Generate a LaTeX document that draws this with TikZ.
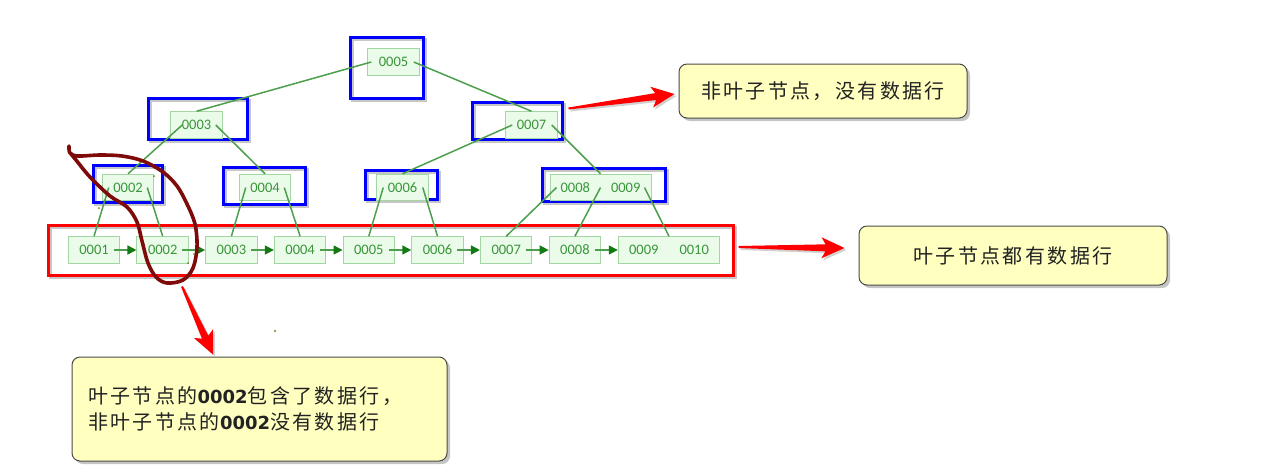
\documentclass[tikz,border=0pt]{standalone}
\usepackage{fontspec}
\setmainfont{Carlito}
\newfontfamily\cjk{Noto Sans CJK SC}[LetterSpace=12]
\newfontfamily\dvs{DejaVu Sans}
\usetikzlibrary{arrows.meta,calc,shadows}
\definecolor{gfill}{HTML}{EAFBEA}
\definecolor{gdraw}{HTML}{A3D6A3}
\definecolor{gtext}{HTML}{3A963A}
\definecolor{gline}{HTML}{4C9F4C}
\definecolor{garrow}{HTML}{137A13}
\definecolor{cfill}{HTML}{FFFFC0}
\definecolor{cdraw}{HTML}{4A4A4A}
\definecolor{ctext}{HTML}{222222}
\definecolor{loopc}{HTML}{7E0A0A}
\definecolor{dotc}{HTML}{807A10}
\newcommand\bnum[1]{{\dvs\bfseries\fontsize{18}{25.5}\selectfont #1}}
\newcommand\redarrow[2]{%
  \coordinate (ra-t) at (#1); \coordinate (ra-p) at (#2);
  \coordinate (ra-h) at ($(ra-p)!23pt!(ra-t)$);
  \coordinate (ra-b) at ($(ra-p)!19pt!(ra-t)$);
  \fill[red, drop shadow={shadow xshift=2pt,shadow yshift=-2pt,opacity=0.35}]
    ($(ra-t)!1pt!90:(ra-p)$) -- ($(ra-b)!3.5pt!-90:(ra-t)$) -- ($(ra-h)!10.5pt!-90:(ra-t)$) -- (ra-p)
    -- ($(ra-h)!10.5pt!90:(ra-t)$) -- ($(ra-b)!3.5pt!90:(ra-t)$) -- ($(ra-t)!1pt!-90:(ra-p)$) -- cycle;
}
\tikzset{
  key/.style={draw=gdraw, fill=gfill, line width=1pt, text=gtext,
    font=\fontsize{14.5}{16}\selectfont, minimum width=51.5pt, minimum height=26.5pt, inner sep=0pt},
  hl/.style={draw=blue, line width=3pt, inner sep=0pt,
    preaction={draw=black, opacity=0.22, line width=3pt, transform canvas={xshift=2pt,yshift=-2pt}}},
  edge/.style={draw=gline, line width=1.5pt},
  larrow/.style={draw=gline, line width=1.5pt, -{Triangle[length=9pt,width=9pt,color=garrow]}},
  callout/.style={draw=cdraw, fill=cfill, line width=1pt, rounded corners=8pt, text=ctext,
    font=\cjk\fontsize{20}{25.5}\selectfont,
    drop shadow={shadow xshift=3pt, shadow yshift=-3pt, opacity=0.45}},
}
\begin{document}
\begin{tikzpicture}[x=1pt,y=-1pt]
\fill[white] (0,0) rectangle (1273,475);
\useasboundingbox (0,0) rectangle (1273,475);

% highlight boxes
\node[hl, minimum width=73pt, minimum height=61pt] (b5) at (387,68) {};
\node[hl, minimum width=99pt, minimum height=41pt] (b3) at (198,119) {};
\node[hl, minimum width=90pt, minimum height=37pt] (b7) at (517.5,121) {};
\node[hl, minimum width=69pt, minimum height=37pt] (b2) at (128,184) {};
\node[hl, minimum width=82pt, minimum height=37pt] (b4) at (264.5,186) {};
\node[hl, minimum width=72pt, minimum height=29pt] (b6) at (401.5,185) {};
\node[hl, minimum width=123pt, minimum height=33pt] (b89) at (604,185) {};
\node[hl, draw=red, minimum width=685pt, minimum height=50pt] (leafbox) at (391,250.5) {};

% internal keys
\node[key] (n5) at (393.5,62) {0005};
\node[key] (n3) at (196.5,125) {0003};
\node[key] (n7) at (531.5,125) {0007};
\node[key] (n2) at (128,187.5) {0002};
\node[key] (n4) at (265,187.5) {0004};
\node[key] (n6) at (402.5,187.5) {0006};
\node[key, minimum width=101pt] (n89) at (600.5,187.5) {0008\hspace{21pt}0009};

% leaves
\node[key] (l1) at (94,250) {0001};
\node[key] (l2) at (162.7,250) {0002};
\node[key] (l3) at (231.4,250) {0003};
\node[key] (l4) at (300.1,250) {0004};
\node[key] (l5) at (368.8,250) {0005};
\node[key] (l6) at (437.5,250) {0006};
\node[key] (l7) at (506.2,250) {0007};
\node[key] (l8) at (574.9,250) {0008};
\node[key, minimum width=101.4pt] (l9) at (669,250) {0009\hspace{21pt}0010};

% tree edges
\draw[edge] ($(n5.west)+(4,0)$) -- (n3.north);
\draw[edge] ($(n5.east)+(-6,0)$) -- (n7.north);
\draw[edge] ($(n3.west)+(12,0)$) -- (n2.north);
\draw[edge] ($(n3.east)+(-7,0)$) -- (n4.north);
\draw[edge] ($(n7.west)+(7,0)$) -- (n6.north);
\draw[edge] ($(n7.east)+(-6,0)$) -- (n89.north);
\draw[edge] ($(n2.west)+(7,0)$) -- (l1.north);
\draw[edge] ($(n2.east)+(-7,0)$) -- (l2.north);
\draw[edge] ($(n4.west)+(7,0)$) -- (l3.north);
\draw[edge] ($(n4.east)+(-7,0)$) -- (l4.north);
\draw[edge] ($(n6.west)+(7,0)$) -- (l5.north);
\draw[edge] ($(n6.east)+(-6,0)$) -- (l6.north);
\draw[edge] ($(n89.west)+(7,0)$) -- (l7.north);
\draw[edge] (n89.center) -- (l8.north);
\draw[edge] ($(n89.east)+(-7,0)$) -- (l9.north);

% leaf chain
\draw[larrow] ($(l1.east)+(-6.5,0)$) -- (l2.west);
\draw[larrow] ($(l2.east)+(-6.5,0)$) -- (l3.west);
\draw[larrow] ($(l3.east)+(-6.5,0)$) -- (l4.west);
\draw[larrow] ($(l4.east)+(-6.5,0)$) -- (l5.west);
\draw[larrow] ($(l5.east)+(-6.5,0)$) -- (l6.west);
\draw[larrow] ($(l6.east)+(-6.5,0)$) -- (l7.west);
\draw[larrow] ($(l7.east)+(-6.5,0)$) -- (l8.west);
\draw[larrow] ($(l8.east)+(-6.5,0)$) -- (l9.west);

% callouts
\node[callout, minimum width=288pt, minimum height=54pt] (c1) at (823,91) {非叶子节点，没有数据行};
\node[callout, minimum width=308pt, minimum height=59pt] (c2) at (1013,255.5) {叶子节点都有数据行};
\node[callout, minimum width=375pt, minimum height=104pt, text width=343pt, inner xsep=16pt, align=left] (c3) at (259.5,409)
  {叶子节点的\bnum{0002}包含了数据行，\\非叶子节点的\bnum{0002}没有数据行};

% red arrows
\coordinate (a1s) at ($(b7.north east)+(4.5,7.5)$);
\coordinate (a1e) at ($(c1.west)+(-4,3)$);
\redarrow{a1s}{a1e}
\coordinate (a2s) at ($(leafbox.east)+(3.5,-3.5)$);
\coordinate (a2e) at ($(c2.west)+(-14,-7.5)$);
\redarrow{a2s}{a2e}
\coordinate (a3s) at ($(leafbox.south west)+(135,9.5)$);
\coordinate (a3e) at ($(c3.north)+(-46.5,-2)$);
\redarrow{a3s}{a3e}

% freehand loop
\draw[loopc, line width=3.6pt, line cap=round, line join=round]
  plot[smooth, tension=0.55] coordinates {(69,146) (70,153) (78,156) (100,155) (122,156) (143,161) (163,172) (177,186) (187,204) (195,224) (197,247) (193,268) (183,280) (167,283) (156,277) (148,263) (142,241) (137,222) (127,207) (110,196) (90,177) (76,160) (71,154)};

% stray dots
\fill[dotc] (275,331) circle (1.2pt);
\fill[dotc] (99,208) circle (1pt);
\fill[dotc] (154,176) circle (1pt);
\fill[dotc] (188,263) circle (1pt);
\fill[dotc] (194,254) circle (1pt);
\end{tikzpicture}
\end{document}
